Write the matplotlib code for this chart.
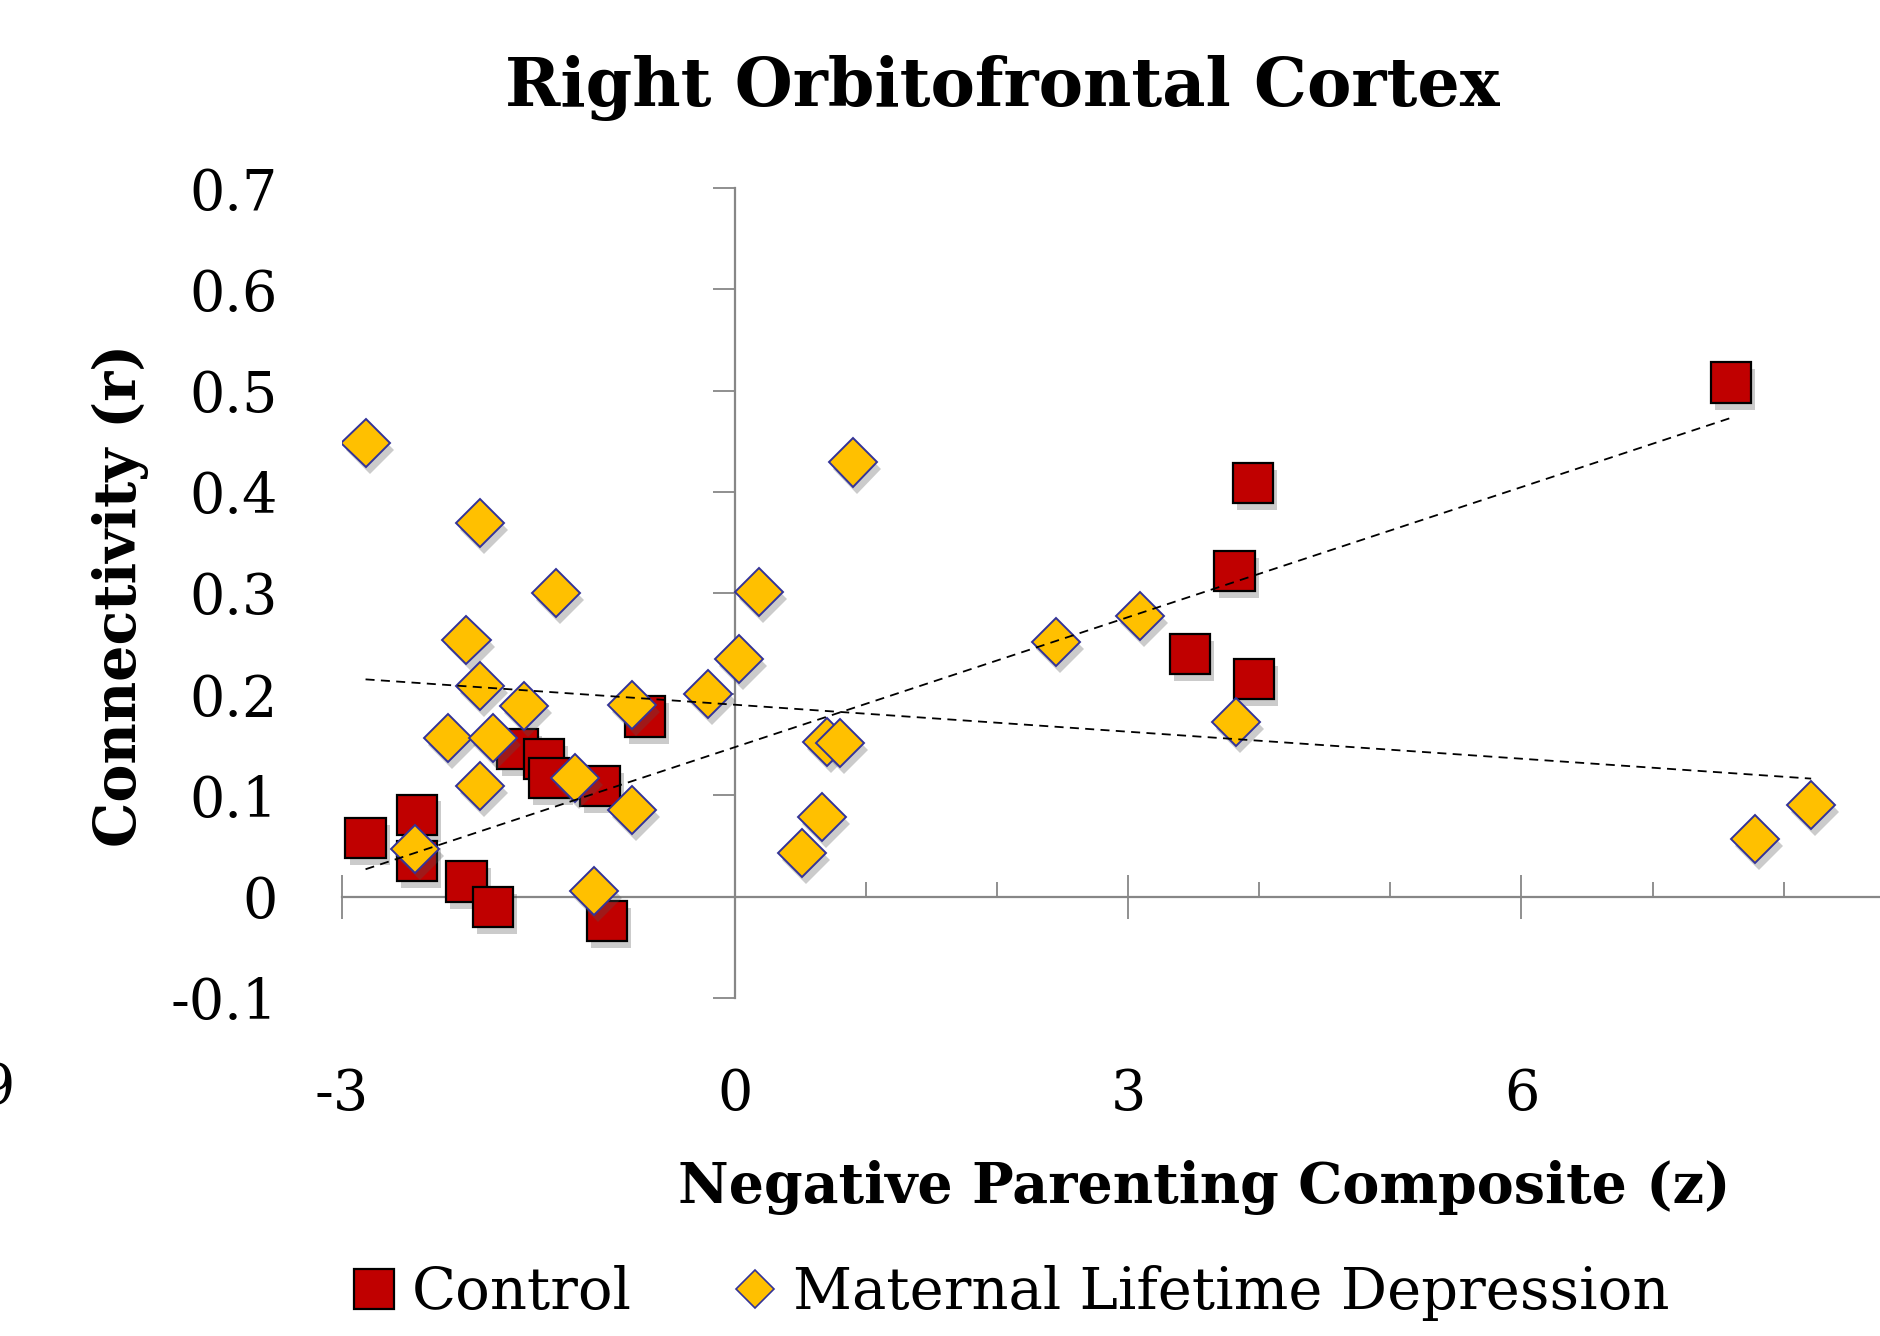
import numpy as np
import matplotlib.pyplot as plt
import matplotlib.patheffects as pe
from matplotlib.lines import Line2D
from matplotlib.ticker import FuncFormatter, MultipleLocator

# Control group (red squares)
ctrl_x = [-2.82, -2.43, -2.43, -2.05, -1.85, -1.66, -1.46, -1.42, -1.03, -0.98, -0.69,
          3.47, 3.81, 3.95, 3.96, 7.60]
ctrl_y = [0.058, 0.081, 0.035, 0.015, -0.010, 0.146, 0.136, 0.117, 0.109, -0.024, 0.178,
          0.240, 0.322, 0.409, 0.215, 0.508]

# Maternal lifetime depression (gold diamonds)
dep_x = [-2.82, -1.95, -1.37, -2.05, -1.95, -1.61, -2.19, -1.85, -1.95, -2.44, -1.22,
         -0.79, -0.79, -1.08, -0.21, 0.03, 0.18, 0.90, 0.70, 0.80, 0.66, 0.51,
         2.45, 3.09, 3.82, 7.78, 8.21]
dep_y = [0.448, 0.369, 0.300, 0.254, 0.208, 0.188, 0.157, 0.157, 0.109, 0.047, 0.117,
         0.086, 0.189, 0.006, 0.200, 0.235, 0.301, 0.429, 0.153, 0.152, 0.079, 0.043,
         0.252, 0.277, 0.173, 0.057, 0.091]

x_major = [-3, 0, 3, 6]
y_ticks = [-0.1, 0, 0.1, 0.2, 0.3, 0.4, 0.5, 0.6, 0.7]

serif = 'DejaVu Serif'
axis_grey = '#878787'
red = '#C00000'
gold = '#FFC000'
navy = '#333399'

fig = plt.figure(figsize=(18.81, 13.36), dpi=100)
ax = fig.add_axes([0.1818, 0.2531, 0.8361, 0.6060])
ax.set_xlim(-3, 9)
ax.set_ylim(-0.1, 0.7)

shadow = [pe.SimplePatchShadow(offset=(3, -5), shadow_rgbFace='#555555', alpha=0.3), pe.Normal()]

ax.plot(ctrl_x, ctrl_y, 's', ms=29, mfc=red, mec='black', mew=1.6,
        path_effects=shadow, zorder=3)
ax.plot(dep_x, dep_y, 'D', ms=24.5, mfc=gold, mec=navy, mew=1.4,
        path_effects=shadow, zorder=4)

# linear trendlines (Excel style)
for xs, ys in [(ctrl_x, ctrl_y), (dep_x, dep_y)]:
    k, b = np.polyfit(xs, ys, 1)
    xx = np.array([min(xs), max(xs)])
    ax.plot(xx, k * xx + b, color='black', lw=1.3, ls=(0, (5, 3.5)), zorder=5)

# axes crossing at zero
for s in ['top', 'right']:
    ax.spines[s].set_visible(False)
ax.spines['left'].set_position(('data', 0))
ax.spines['bottom'].set_position(('data', 0))
for s in ['left', 'bottom']:
    ax.spines[s].set_color(axis_grey)
    ax.spines[s].set_linewidth(1.6)

ax.set_xticks(x_major)
ax.xaxis.set_minor_locator(MultipleLocator(1))
ax.tick_params(axis='x', which='major', direction='inout', length=31, width=1.3,
               color=axis_grey, labelbottom=False)
ax.tick_params(axis='x', which='minor', direction='in', length=11, width=1.3,
               color=axis_grey)
ax.set_yticks(y_ticks)
ax.tick_params(axis='y', direction='out', length=16, width=1.3, color=axis_grey,
               labelleft=False)

# labels sit at the low edge like in Excel
fmt = FuncFormatter(lambda v, p: f'{v:g}')
secx = ax.secondary_xaxis('bottom')
secx.set_xticks(x_major)
secx.xaxis.set_major_formatter(fmt)
secx.tick_params(length=0, pad=50, labelsize=40)
secx.spines['bottom'].set_visible(False)
for t in secx.get_xticklabels():
    t.set_family(serif)

secy = ax.secondary_yaxis('left')
secy.set_yticks(y_ticks)
secy.yaxis.set_major_formatter(fmt)
secy.tick_params(length=0, pad=46, labelsize=40)
secy.spines['left'].set_visible(False)
for t in secy.get_yticklabels():
    t.set_family(serif)

fig.text(0.533, 0.934, 'Right Orbitofrontal Cortex', ha='center', va='center',
         fontsize=48, fontweight='bold', family=serif)
fig.text(0.064, 0.554, 'Connectivity (r)', ha='center', va='center', rotation=90,
         fontsize=41, fontweight='bold', family=serif)
fig.text(0.64, 0.111, 'Negative Parenting Composite (z)', ha='center', va='center',
         fontsize=40, fontweight='bold', family=serif)
fig.text(0.008, 0.185, '9', ha='right', va='center', fontsize=40, family=serif)

handles = [Line2D([], [], ls='none', marker='s', ms=29, mfc=red, mec='black', mew=1.6),
           Line2D([], [], ls='none', marker='D', ms=19, mfc=gold, mec=navy, mew=1.2)]
fig.legend(handles, ['Control', 'Maternal Lifetime Depression'], loc='center',
           bbox_to_anchor=(0.537, 0.032), ncol=2, frameon=False,
           prop={'family': serif, 'size': 41.5}, handlelength=0.8,
           handletextpad=0.25, columnspacing=1.75)

fig.savefig('out.png', dpi=100)
